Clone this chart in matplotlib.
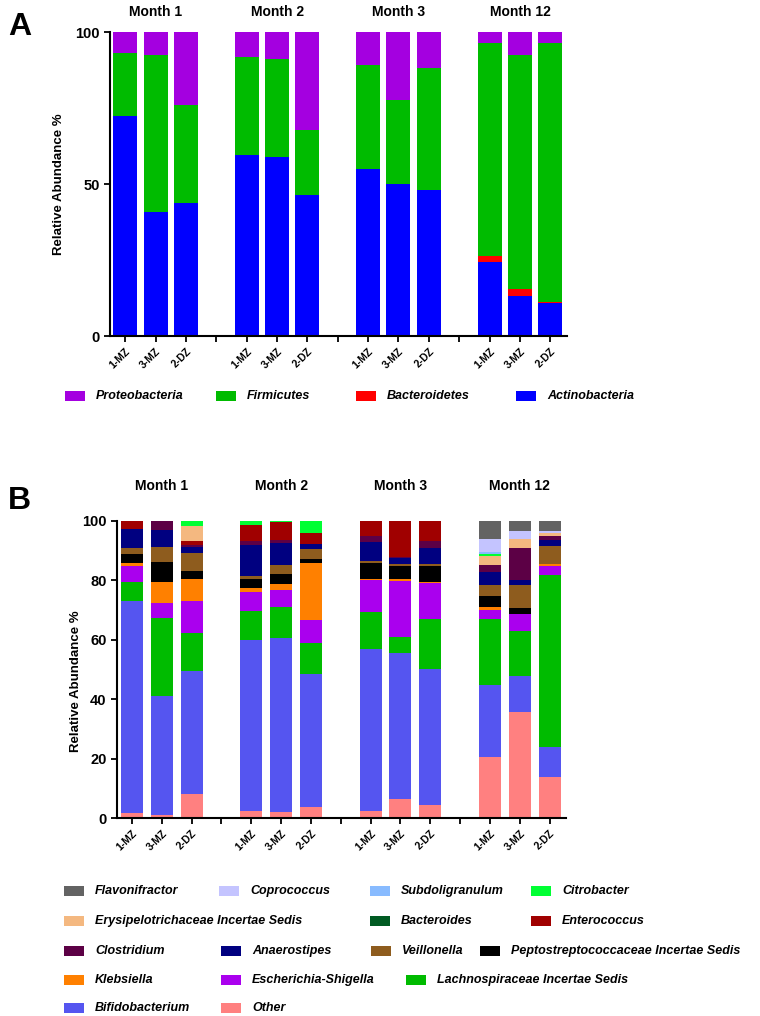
import numpy as np
import matplotlib
matplotlib.use("Agg")
import matplotlib.pyplot as plt
from matplotlib.patches import Rectangle
import matplotlib.transforms as mtransforms

plt.rcParams['font.family'] = ['Liberation Sans', 'DejaVu Sans']
plt.rcParams['font.weight'] = 'bold'

months = ['Month 1', 'Month 2', 'Month 3', 'Month 12']
samples = ['1-MZ', '3-MZ', '2-DZ']

# panel A - phyla (segment sizes, bottom to top)
actinobacteria = [72.3, 40.9, 43.7, 59.5, 58.8, 46.3, 54.9, 50.1, 48.1, 24.5, 13.0, 10.7]
bacteroidetes = [0, 0, 0, 0, 0, 0, 0, 0, 0, 1.8, 2.5, 0.4]
firmicutes = [20.8, 51.4, 32.2, 32.4, 32.3, 21.4, 34.2, 27.6, 40.1, 70.2, 77.0, 85.2]
proteobacteria = [6.9, 7.7, 24.1, 8.1, 8.9, 32.3, 10.9, 22.3, 11.8, 3.5, 7.5, 3.7]

phyla_names = ['Actinobacteria', 'Bacteroidetes', 'Firmicutes', 'Proteobacteria']
phyla_vals = [actinobacteria, bacteroidetes, firmicutes, proteobacteria]
phyla_cols = ['#0000ff', '#ff0000', '#00bb00', '#a400e0']

# panel B - genera (segment sizes, bottom to top)
other = [1.7, 1.1, 8.1, 2.5, 2.1, 3.6, 2.5, 6.4, 4.3, 20.7, 35.7, 13.7]
bifidobacterium = [71.3, 40.1, 41.5, 57.4, 58.4, 44.9, 54.3, 49.3, 45.8, 24.2, 12.0, 10.1]
lachnospiraceae = [6.3, 26.2, 12.6, 9.8, 10.6, 10.5, 12.6, 5.3, 16.8, 22.1, 15.2, 57.9]
escherichia = [5.5, 5.1, 11.0, 6.4, 5.6, 7.6, 10.9, 18.8, 12.1, 3.2, 5.9, 3.3]
klebsiella = [0.9, 7.0, 7.3, 1.2, 2.0, 19.1, 0.2, 0.6, 0.3, 0.9, 0, 0.6]
peptostrepto = [3.1, 6.6, 2.7, 3.1, 3.6, 1.6, 5.4, 4.5, 5.5, 3.8, 1.9, 0]
veillonella = [2.1, 5.2, 6.1, 1.0, 2.8, 3.4, 0.6, 0.7, 0.6, 3.7, 7.6, 5.9]
anaerostipes = [6.4, 5.8, 2.0, 10.4, 7.5, 1.5, 6.4, 2.0, 5.6, 4.1, 1.7, 2.2]
clostridium = [0, 2.9, 0.5, 1.4, 0.9, 0, 2.1, 0.3, 2.3, 2.6, 11.0, 1.1]
enterococcus = [2.7, 0, 1.5, 5.6, 6.2, 3.9, 5.0, 12.1, 6.7, 0, 0, 0]
bacteroides = [0, 0, 0, 0, 0, 0, 0, 0, 0, 0, 0, 0]
erysipelo = [0, 0, 5.0, 0, 0, 0, 0, 0, 0, 3.0, 3.0, 1.2]
citrobacter = [0, 0, 2.1, 1.2, 0.3, 3.9, 0, 0, 0, 0.7, 0, 0]
subdoligranulum = [0, 0, 0, 0, 0, 0, 0, 0, 0, 0.5, 0, 0]
coprococcus = [0, 0, 0, 0, 0, 0, 0, 0, 0, 4.3, 2.8, 0.5]
flavonifractor = [0, 0, 0, 0, 0, 0, 0, 0, 0, 6.2, 3.2, 3.5]

genus_names = ['Other', 'Bifidobacterium', 'Lachnospiraceae Incertae Sedis', 'Escherichia-Shigella',
               'Klebsiella', 'Peptostreptococcaceae Incertae Sedis', 'Veillonella', 'Anaerostipes',
               'Clostridium', 'Enterococcus', 'Bacteroides', 'Erysipelotrichaceae Incertae Sedis',
               'Citrobacter', 'Subdoligranulum', 'Coprococcus', 'Flavonifractor']
genus_vals = [other, bifidobacterium, lachnospiraceae, escherichia, klebsiella, peptostrepto,
              veillonella, anaerostipes, clostridium, enterococcus, bacteroides, erysipelo,
              citrobacter, subdoligranulum, coprococcus, flavonifractor]
genus_cols = ['#ff8080', '#5555f0', '#00bb00', '#aa00ee', '#ff8000', '#000000', '#8e5c1e',
              '#000080', '#5c0045', '#a00000', '#005a22', '#f4b880', '#00ff33', '#88bbff',
              '#c4c4ff', '#636363']

W, H = 760, 1016
fig = plt.figure(figsize=(W / 100, H / 100), dpi=100)

def fx(px):
    return px / W

def fy(py):
    return 1 - py / H

# bar positions: 3 bars per month, one empty slot between months
pos = np.array([g * 4 + i for g in range(4) for i in range(3)])
tick_pos = np.arange(15)
tick_lab = [samples[i % 4] if i % 4 < 3 else '' for i in tick_pos]


def setup_axis(ax, yticks, title_y, label_x, label_y):
    ax.set_xlim(-0.5, 14.55)
    ax.set_ylim(0, 100)
    ax.set_yticks(yticks)
    ax.set_yticklabels([str(t) for t in yticks], fontsize=10.5, fontweight='bold')
    ax.set_xticks(tick_pos)
    ax.set_xticklabels(tick_lab, rotation=45, ha='right', va='top', rotation_mode='anchor',
                       fontsize=7.5, fontweight='bold')
    for s in ['top', 'right']:
        ax.spines[s].set_visible(False)
    for s in ['left', 'bottom']:
        ax.spines[s].set_linewidth(1.5)
    ax.tick_params(width=1.3, length=4)
    ax.set_ylabel('Relative Abundance %', fontsize=9.5, fontweight='bold')
    ax.yaxis.set_label_coords(label_x, label_y)
    trans = mtransforms.blended_transform_factory(ax.transData, ax.transAxes)
    for g, m in enumerate(months):
        ax.text(g * 4 + 1, title_y, m, transform=trans, ha='center', va='center',
                fontsize=10, fontweight='bold')


# panel A
axA = fig.add_axes([fx(110), fy(336), fx(567) - fx(110), fy(32) - fy(336)])
bottom = np.zeros(12)
for vals, col in zip(phyla_vals, phyla_cols):
    axA.bar(pos, vals, width=0.79, bottom=bottom, color=col, linewidth=0)
    bottom += np.array(vals)
setup_axis(axA, [0, 50, 100], 1.067, -0.098, 0.5)

# panel B
axB = fig.add_axes([fx(117), fy(818), fx(566) - fx(117), fy(521) - fy(818)])
bottom = np.zeros(12)
for vals, col in zip(genus_vals, genus_cols):
    axB.bar(pos, vals, width=0.74, bottom=bottom, color=col, linewidth=0)
    bottom += np.array(vals)
setup_axis(axB, [0, 20, 40, 60, 80, 100], 1.117, -0.078, 0.46)

fig.text(fx(8), fy(27), 'A', fontsize=23, fontweight='bold', va='center')
fig.text(fx(8), fy(501), 'B', fontsize=23, fontweight='bold', va='center')


def legend_item(text_x, y, name, col):
    fig.add_artist(Rectangle((fx(text_x - 31), fy(y + 5)), fx(20), fy(y - 5) - fy(y + 5),
                             transform=fig.transFigure, facecolor=col, edgecolor='none'))
    fig.text(fx(text_x), fy(y), name, fontsize=9, fontweight='bold', style='italic', va='center')


# legend A (reverse order)
legA_x = [96, 247, 387, 547]
for i, k in enumerate([3, 2, 1, 0]):
    legend_item(legA_x[i], 396, phyla_names[k], phyla_cols[k])

# legend B (reverse stack order, irregular columns as in the original)
legB_rows = [
    (891, [(15, 95), (14, 250), (13, 401), (12, 562)]),
    (921, [(11, 95), (10, 401), (9, 562)]),
    (951, [(8, 95), (7, 252), (6, 402), (5, 511)]),
    (980, [(4, 95), (3, 252), (2, 437)]),
    (1008, [(1, 95), (0, 252)]),
]
for y, items in legB_rows:
    for k, x in items:
        legend_item(x, y, genus_names[k], genus_cols[k])

fig.savefig('out.png', dpi=100)
